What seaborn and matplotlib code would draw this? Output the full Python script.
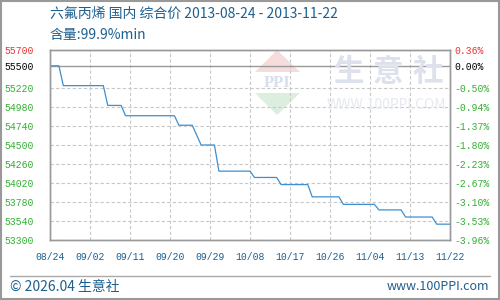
import matplotlib
matplotlib.use("Agg")
import matplotlib.pyplot as plt
import seaborn as sns
import pandas as pd
from matplotlib.patches import Rectangle, Polygon
from matplotlib.lines import Line2D

# ---- data ----
dates = ["2013-08-24", "2013-08-26", "2013-08-27", "2013-09-05", "2013-09-06",
         "2013-09-09", "2013-09-10", "2013-09-21", "2013-09-22", "2013-09-25",
         "2013-09-26", "2013-09-27", "2013-09-30", "2013-10-01", "2013-10-08",
         "2013-10-09", "2013-10-14", "2013-10-15", "2013-10-21", "2013-10-22",
         "2013-10-28", "2013-10-29", "2013-11-05", "2013-11-06", "2013-11-11",
         "2013-11-12", "2013-11-18", "2013-11-19", "2013-11-22"]
prices = [55500, 55500, 55250, 55250, 55000, 55000, 54870, 54870, 54750, 54750,
          54625, 54500, 54500, 54170, 54170, 54090, 54090, 54000, 54000, 53845,
          53845, 53750, 53750, 53680, 53680, 53590, 53590, 53500, 53500]

y_ticks = [53300, 53540, 53780, 54020, 54260, 54500, 54740, 54980, 55220, 55500, 55700]
y_labels = ["53300", "53540", "53780", "54020", "54260", "54500", "54740", "54980",
            "55220", "55500", "55700"]
pct_labels = ["-3.96%", "-3.53%", "-3.10%", "-2.67%", "-2.23%", "-1.80%", "-1.37%",
              "-0.94%", "-0.50%", "0.00%", "0.36%"]
x_tick_dates = ["2013-08-24", "2013-09-02", "2013-09-11", "2013-09-20", "2013-09-29",
                "2013-10-08", "2013-10-17", "2013-10-26", "2013-11-04", "2013-11-13",
                "2013-11-22"]
x_labels = ["08/24", "09/02", "09/11", "09/20", "09/29", "10/08", "10/17", "10/26",
            "11/04", "11/13", "11/22"]

title = "六氟丙烯 国内 综合价 2013-08-24 - 2013-11-22"
subtitle = "含量:99.9%min"
footer_left = "© 2026.04 生意社"
footer_right = "www.100PPI.com"

# ---- style ----
sns.set_style("white")
plt.rcParams['font.family'] = ['Noto Sans CJK SC', 'DejaVu Sans']

BLUE_TXT = "#1d5f8f"
GREEN = "#33b033"
RED = "#ee3333"
GRID = "#c8c8c8"
SPINE = "#9a9a9a"
LINE = "#3d8fd1"
MONO = ["Liberation Mono", "DejaVu Sans Mono"]

df = pd.DataFrame({"date": pd.to_datetime(dates), "price": prices})

W, H = 500, 300
fig = plt.figure(figsize=(5, 3), dpi=100)
ax = fig.add_axes([0.1, 0.2, 0.8, 0.6333])


def fx(px):
    return px / W


def fy(py):
    return 1 - py / H


# watermark (logo + name)
fig.add_artist(Polygon([(fx(255), fy(72)), (fx(277), fy(50)), (fx(300), fy(72))],
                       closed=True, facecolor="#f6dcdc", edgecolor="none",
                       transform=fig.transFigure, zorder=0))
fig.add_artist(Polygon([(fx(255), fy(93)), (fx(300), fy(93)), (fx(277), fy(115))],
                       closed=True, facecolor="#dcefdf", edgecolor="none",
                       transform=fig.transFigure, zorder=0))
fig.text(fx(277), fy(83), "PPI", fontsize=12, color="#d8dfec", ha="center", va="center",
         fontweight="bold", family=["Liberation Serif", "DejaVu Serif"], zorder=0)
for ch, cx in zip("生意社", [348, 388, 428]):
    fig.text(fx(cx), fy(72), ch, fontsize=22, color="#dce1ec", ha="center", va="center",
             fontweight="bold", zorder=0)
fig.text(fx(386), fy(105), "WWW.100PPI.COM", fontsize=10, color="#e6e9f0", ha="center",
         va="center", zorder=0)

xt = pd.to_datetime(x_tick_dates)
for d in xt:
    ax.axvline(d, color=GRID, lw=0.8, ls=(0, (3, 2)), zorder=1)
for v in y_ticks:
    if v == 55500:
        ax.axhline(v, color=SPINE, lw=1.0, zorder=1)
    elif v != 55700:
        ax.axhline(v, color=GRID, lw=0.8, ls=(0, (3, 2)), zorder=1)

sns.lineplot(data=df, x="date", y="price", ax=ax, color=LINE, lw=0.9, zorder=3)
ax.patch.set_alpha(0)

ax.set_xlim(xt[0], xt[-1])
ax.set_ylim(53300, 55700)
ax.set_xlabel("")
ax.set_ylabel("")
ax.set_xticks(xt)
ax.set_xticklabels(x_labels, family=MONO, fontsize=7, color=BLUE_TXT)
ax.set_yticks(y_ticks)
ax.set_yticklabels(y_labels, family=MONO, fontsize=7)
ax.tick_params(axis="both", length=0)
ax.tick_params(axis="y", pad=11.5)
ax.tick_params(axis="x", pad=9)
for lab, v in zip(ax.get_yticklabels(), y_ticks):
    lab.set_color(RED if v == 55700 else ("black" if v == 55500 else GREEN))
for s in ax.spines.values():
    s.set_color(SPINE)
    s.set_linewidth(1.0)

ax2 = ax.twinx()
ax2.set_ylim(53300, 55700)
ax2.set_yticks(y_ticks)
ax2.set_yticklabels(pct_labels, family=MONO, fontsize=7)
ax2.tick_params(axis="y", length=0, pad=3)
for lab, v in zip(ax2.get_yticklabels(), y_ticks):
    lab.set_color(RED if v == 55700 else ("black" if v == 55500 else GREEN))
for s in ax2.spines.values():
    s.set_color(SPINE)
    s.set_linewidth(1.0)

# texts
fig.text(fx(50), fy(14), title, fontsize=10, color=BLUE_TXT, ha="left", va="center")
fig.text(fx(50), fy(35), subtitle, fontsize=10, color=BLUE_TXT, ha="left", va="center")
fig.text(fx(10), fy(287), footer_left, fontsize=10, color=BLUE_TXT, ha="left", va="center")
fig.text(fx(489), fy(287), footer_right, fontsize=9, color=BLUE_TXT, ha="right", va="center")

fig.add_artist(Line2D([fx(10), fx(490)], [fy(276), fy(276)], color="#aaaaaa", lw=1.0))
fig.add_artist(Rectangle((0.001, 0.002), 0.997, 0.995, fill=False, edgecolor="#999999",
                         lw=1.5, transform=fig.transFigure))

fig.savefig("out.png", dpi=100)
